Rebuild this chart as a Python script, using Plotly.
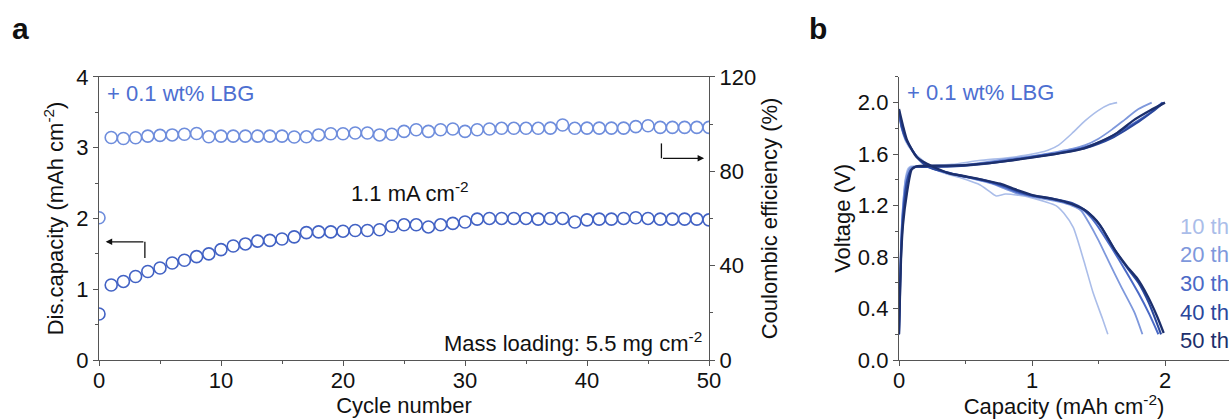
import plotly.graph_objects as go

# ---------------- Panel a: cycling data ----------------
cycles = list(range(0, 51))
coulombic_eff = [60.3, 94.3, 93.9, 94.2, 94.9, 95.2, 95.4, 95.7, 96.0, 94.6,
                 94.9, 94.9, 94.9, 94.9, 94.9, 94.9, 94.5, 94.6, 95.4, 95.9,
                 95.9, 96.2, 96.2, 95.4, 95.7, 96.9, 97.6, 96.9, 97.6, 97.9,
                 96.9, 97.6, 97.9, 98.2, 98.2, 98.2, 98.2, 98.3, 99.6, 98.2,
                 98.3, 98.3, 98.3, 98.3, 98.9, 99.3, 98.6, 98.6, 98.6, 98.6,
                 98.6]
dis_capacity = [0.65, 1.06, 1.11, 1.18, 1.25, 1.30, 1.37, 1.41, 1.46, 1.50,
                1.56, 1.61, 1.64, 1.68, 1.69, 1.71, 1.74, 1.80, 1.81, 1.81,
                1.82, 1.83, 1.83, 1.84, 1.89, 1.91, 1.91, 1.88, 1.91, 1.93,
                1.95, 1.99, 2.00, 2.00, 2.00, 2.00, 1.99, 2.00, 2.00, 1.95,
                1.98, 1.99, 1.99, 2.00, 2.01, 2.00, 1.99, 1.99, 1.99, 1.99,
                1.98]

# ---------------- Panel b: voltage profiles ----------------
cycle_labels = ["10 th", "20 th", "30 th", "40 th", "50 th"]
cycle_colors = ["#aabde9", "#7e98dc", "#4a69c6", "#2a479c", "#1c2f6c"]
cycle_widths = [1.6, 1.8, 2.0, 2.1, 2.3]

chg_cap_10 = [0, 0.005, 0.015, 0.03, 0.05, 0.07, 0.09, 0.2, 0.4, 0.6, 0.8, 0.95, 1.05, 1.12, 1.2, 1.3, 1.4, 1.5, 1.58, 1.64]
chg_v_10 = [0.2, 0.5, 0.9, 1.2, 1.42, 1.49, 1.505, 1.51, 1.52, 1.55, 1.57, 1.59, 1.61, 1.63, 1.67, 1.76, 1.86, 1.94, 1.985, 2.0]
dis_cap_10 = [0, 0.02, 0.05, 0.1, 0.18, 0.25, 0.35, 0.48, 0.61, 0.68, 0.73, 0.8, 0.9, 1.0, 1.1, 1.18, 1.24, 1.31, 1.39, 1.46, 1.53, 1.57]
dis_v_10 = [1.9, 1.8, 1.7, 1.62, 1.55, 1.49, 1.45, 1.41, 1.36, 1.31, 1.275, 1.29, 1.28, 1.26, 1.23, 1.2, 1.14, 1.03, 0.77, 0.52, 0.32, 0.2]

chg_cap_20 = [0, 0.005, 0.015, 0.03, 0.05, 0.08, 0.1, 0.2, 0.4, 0.6, 0.8, 1.0, 1.2, 1.3, 1.4, 1.5, 1.6, 1.7, 1.8, 1.9]
chg_v_20 = [0.2, 0.5, 0.9, 1.2, 1.4, 1.49, 1.5, 1.505, 1.51, 1.53, 1.56, 1.585, 1.62, 1.64, 1.67, 1.72, 1.79, 1.87, 1.95, 2.0]
dis_cap_20 = [0, 0.02, 0.05, 0.1, 0.15, 0.25, 0.4, 0.55, 0.7, 0.8, 0.9, 1.0, 1.1, 1.2, 1.3, 1.37, 1.42, 1.5, 1.57, 1.67, 1.77, 1.83]
dis_v_20 = [1.92, 1.8, 1.71, 1.63, 1.56, 1.49, 1.44, 1.41, 1.37, 1.33, 1.29, 1.27, 1.25, 1.23, 1.2, 1.16, 1.08, 0.93, 0.78, 0.57, 0.37, 0.2]

chg_cap_30 = [0, 0.005, 0.015, 0.03, 0.06, 0.09, 0.12, 0.2, 0.4, 0.6, 0.8, 1.0, 1.2, 1.3, 1.4, 1.5, 1.6, 1.7, 1.8, 1.9, 1.98]
chg_v_30 = [0.2, 0.45, 0.85, 1.15, 1.4, 1.48, 1.5, 1.505, 1.51, 1.525, 1.55, 1.58, 1.61, 1.63, 1.655, 1.69, 1.74, 1.8, 1.86, 1.93, 2.0]
dis_cap_30 = [0, 0.02, 0.05, 0.1, 0.15, 0.22, 0.35, 0.5, 0.65, 0.8, 0.9, 1.0, 1.15, 1.3, 1.38, 1.45, 1.52, 1.6, 1.7, 1.8, 1.88, 1.95]
dis_v_30 = [1.93, 1.81, 1.72, 1.63, 1.56, 1.5, 1.46, 1.425, 1.39, 1.34, 1.3, 1.275, 1.25, 1.21, 1.17, 1.1, 1.0, 0.87, 0.7, 0.52, 0.36, 0.2]

chg_cap_40 = [0, 0.005, 0.015, 0.03, 0.06, 0.09, 0.12, 0.2, 0.4, 0.6, 0.8, 1.0, 1.2, 1.3, 1.4, 1.5, 1.6, 1.7, 1.8, 1.9, 1.99]
chg_v_40 = [0.2, 0.4, 0.8, 1.1, 1.38, 1.48, 1.5, 1.5, 1.505, 1.52, 1.545, 1.575, 1.605, 1.625, 1.645, 1.68, 1.725, 1.785, 1.85, 1.925, 2.0]
dis_cap_40 = [0, 0.02, 0.05, 0.1, 0.15, 0.22, 0.35, 0.5, 0.65, 0.8, 0.9, 1.0, 1.15, 1.3, 1.39, 1.46, 1.53, 1.62, 1.72, 1.8, 1.88, 1.97]
dis_v_40 = [1.94, 1.82, 1.72, 1.63, 1.56, 1.5, 1.46, 1.425, 1.395, 1.35, 1.31, 1.28, 1.255, 1.22, 1.17, 1.11, 1.02, 0.86, 0.71, 0.6, 0.44, 0.2]

chg_cap_50 = [0, 0.005, 0.015, 0.03, 0.06, 0.095, 0.13, 0.26, 0.51, 0.76, 1.01, 1.26, 1.39, 1.51, 1.64, 1.76, 1.89, 2.0]
chg_v_50 = [0.2, 0.4, 0.78, 1.05, 1.3, 1.48, 1.505, 1.51, 1.515, 1.54, 1.575, 1.615, 1.645, 1.695, 1.765, 1.86, 1.94, 2.0]
dis_cap_50 = [0, 0.03, 0.06, 0.13, 0.2, 0.26, 0.38, 0.51, 0.63, 0.76, 0.89, 1.01, 1.14, 1.26, 1.39, 1.46, 1.51, 1.62, 1.72, 1.79, 1.87, 1.94, 1.99]
dis_v_50 = [1.95, 1.82, 1.71, 1.58, 1.53, 1.5, 1.45, 1.425, 1.4, 1.37, 1.32, 1.28, 1.255, 1.225, 1.17, 1.11, 1.05, 0.86, 0.72, 0.635, 0.495, 0.34, 0.21]

profiles = [
    (chg_cap_10, chg_v_10, dis_cap_10, dis_v_10),
    (chg_cap_20, chg_v_20, dis_cap_20, dis_v_20),
    (chg_cap_30, chg_v_30, dis_cap_30, dis_v_30),
    (chg_cap_40, chg_v_40, dis_cap_40, dis_v_40),
    (chg_cap_50, chg_v_50, dis_cap_50, dis_v_50),
]
label_voltages = [1.035, 0.816, 0.598, 0.373, 0.155]

FONT = "Liberation Sans, Arial, sans-serif"
BLACK = "#111111"
AXIS = "#555555"
CE_COLOR = "#6e8ddc"
CAP_COLOR = "#4262c4"
TAG_COLOR = "#4d6fd1"

fig = go.Figure()

# Coulombic efficiency (right axis)
fig.add_trace(go.Scatter(
    x=cycles, y=coulombic_eff, xaxis="x", yaxis="y2", mode="markers",
    marker=dict(symbol="circle-open", size=12, color=CE_COLOR,
                line=dict(width=1.6, color=CE_COLOR)),
    showlegend=False))
# Discharge capacity (left axis)
fig.add_trace(go.Scatter(
    x=cycles, y=dis_capacity, xaxis="x", yaxis="y", mode="markers",
    marker=dict(symbol="circle-open", size=12, color=CAP_COLOR,
                line=dict(width=1.6, color=CAP_COLOR)),
    showlegend=False))

# Charge / discharge profiles
for (cc, cv, dc, dv), col, w in zip(profiles, cycle_colors, cycle_widths):
    for xs, ys in ((cc, cv), (dc, dv)):
        fig.add_trace(go.Scatter(
            x=xs, y=ys, xaxis="x2", yaxis="y3", mode="lines",
            line=dict(color=col, width=w, shape="spline", smoothing=0.6),
            showlegend=False))

tick_font = dict(family=FONT, size=22, color=BLACK)
title_font = dict(family=FONT, size=22, color=BLACK)

common_axis = dict(showline=True, linecolor=AXIS, linewidth=1.3,
                   ticks="outside", ticklen=5, tickwidth=1.2, tickcolor=AXIS,
                   showgrid=False, zeroline=False, tickfont=tick_font,
                   automargin=False)

Y_DOMAIN = [0.1408, 0.8165]

fig.update_layout(
    width=1229, height=419,
    margin=dict(l=0, r=0, t=0, b=0),
    paper_bgcolor="white", plot_bgcolor="white",
    font=dict(family=FONT, color=BLACK),
    xaxis=dict(domain=[99 / 1229, 709 / 1229], range=[0, 50], dtick=10,
               anchor="y", mirror=True, ticklabelstandoff=-5,
               minor=dict(dtick=5, ticks="outside", ticklen=3, tickcolor=AXIS),
               title=dict(text="Cycle number", font=title_font, standoff=6),
               **common_axis),
    yaxis=dict(domain=Y_DOMAIN, range=[0, 4], dtick=1, anchor="x",
               minor=dict(dtick=0.5, ticks="outside", ticklen=3, tickcolor=AXIS),
               title=dict(text="Dis.capacity (mAh cm<sup>-2</sup>)",
                          font=title_font, standoff=6),
               **common_axis),
    yaxis2=dict(range=[0, 120], dtick=40, overlaying="y", side="right",
                anchor="x",
                minor=dict(dtick=20, ticks="outside", ticklen=3, tickcolor=AXIS),
                title=dict(text="Coulombic efficiency (%)", font=title_font,
                           standoff=6),
                **common_axis),
    xaxis2=dict(domain=[899 / 1229, 1.0], range=[0, 2.481], dtick=1,
                anchor="y3", ticklabelstandoff=-5,
                minor=dict(dtick=0.5, ticks="outside", ticklen=3, tickcolor=AXIS),
                title=dict(text="Capacity (mAh cm<sup>-2</sup>)",
                           font=title_font, standoff=1),
                **common_axis),
    yaxis3=dict(domain=Y_DOMAIN, range=[0, 2.2], dtick=0.4, tickformat=".1f",
                anchor="x2",
                minor=dict(dtick=0.2, ticks="outside", ticklen=3, tickcolor=AXIS),
                title=dict(text="Voltage (V)", font=title_font, standoff=1),
                **common_axis),
)

annotations = [
    dict(text="<b>a</b>", x=20 / 1229, y=1 - 28 / 419, xref="paper", yref="paper",
         xanchor="center", yanchor="middle", showarrow=False,
         font=dict(family=FONT, size=30, color=BLACK)),
    dict(text="<b>b</b>", x=818 / 1229, y=1 - 28 / 419, xref="paper", yref="paper",
         xanchor="center", yanchor="middle", showarrow=False,
         font=dict(family=FONT, size=30, color=BLACK)),
    dict(text="+ 0.1 wt% LBG", x=0.5, y=3.77, xref="x", yref="y",
         xanchor="left", yanchor="middle", showarrow=False,
         font=dict(family=FONT, size=22, color=TAG_COLOR)),
    dict(text="1.1 mA cm<sup>-2</sup>", x=25.5, y=2.37, xref="x", yref="y",
         xanchor="center", yanchor="middle", showarrow=False,
         font=dict(family=FONT, size=22, color=BLACK)),
    dict(text="Mass loading: 5.5 mg cm<sup>-2</sup>", x=49.6, y=0.25, xref="x",
         yref="y", xanchor="right", yanchor="middle", showarrow=False,
         font=dict(family=FONT, size=22, color=BLACK)),
    dict(text="+ 0.1 wt% LBG", x=0.045, y=2.08, xref="x2", yref="y3",
         xanchor="left", yanchor="middle", showarrow=False,
         font=dict(family=FONT, size=22, color=TAG_COLOR)),
    # arrow pointing to the left axis
    dict(text="", x=0.55, y=1.67, ax=3.76, ay=1.67, xref="x", yref="y",
         axref="x", ayref="y", showarrow=True, arrowhead=2, arrowsize=1,
         arrowwidth=1.3, arrowcolor=BLACK),
    # arrow pointing to the right axis
    dict(text="", x=49.6, y=2.85, ax=46.1, ay=2.85, xref="x", yref="y",
         axref="x", ayref="y", showarrow=True, arrowhead=2, arrowsize=1,
         arrowwidth=1.3, arrowcolor=BLACK),
]
for lab, col, v in zip(cycle_labels, cycle_colors, label_voltages):
    annotations.append(dict(text=lab, x=2.1, y=v, xref="x2", yref="y3",
                            xanchor="left", yanchor="middle", showarrow=False,
                            font=dict(family=FONT, size=22, color=col)))
fig.update_layout(annotations=annotations)

fig.update_layout(shapes=[
    dict(type="line", xref="x", yref="y", x0=3.76, y0=1.67, x1=3.76, y1=1.44,
         line=dict(color=BLACK, width=1.3)),
    dict(type="line", xref="x", yref="y", x0=46.1, y0=3.06, x1=46.1, y1=2.85,
         line=dict(color=BLACK, width=1.3)),
])

fig.write_html("out.html")
